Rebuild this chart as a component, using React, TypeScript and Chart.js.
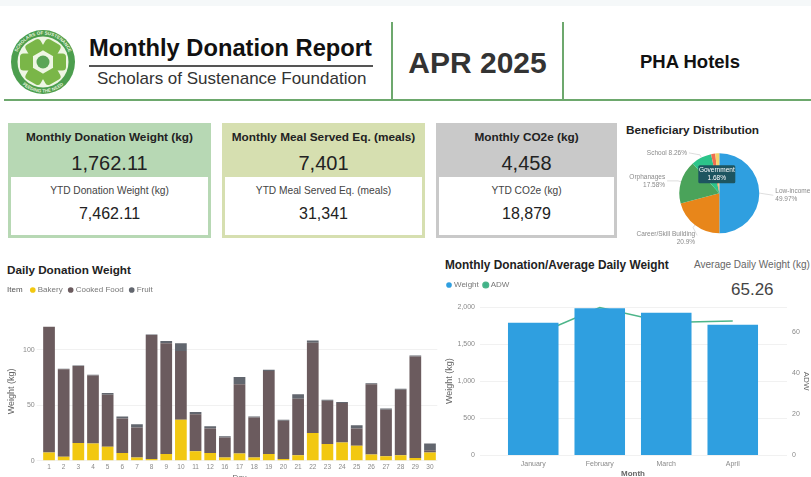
import React, { useEffect, useRef } from "react";
import { Chart, registerables } from "chart.js";

Chart.register(...registerables);
Chart.defaults.font.family = "'Liberation Sans', Arial, sans-serif";

const days = ["1","2","3","4","5","6","7","8","9","10","11","12","16","17","18","19","20","21","22","23","24","25","26","27","28","29","30"];
const bakery = [7.5,3.5,16,15.5,12.5,7,3,1.5,6,37,8.5,7,3,6.5,3,6,1.5,5,25,15,16.5,13.5,5.5,4,5,2.5,7.5];
const cookedFood = [113.5,79,69.5,61.5,47,31,27,112,100,62,33.5,22,18,62.5,36,75,34.5,51,81.5,39,35.5,15.5,63.5,42,59,91.5,2];
const fruit = [0,0.5,0.5,0.5,1.5,2,3,0.5,2,7,2,2,1,6.5,1,1,1,4,2,1,1,3,1,1,1,1,6];

const months = ["January","February","March","April"];
const monthlyWeight = [1790,1985,1925,1762.11];
const monthlyAdw = [58,71.8,64.6,65.26];

const groups = ["Low-income","Career/Skill Building","Orphanages","School","Government","Other"];
const shares = [49.97,20.9,17.58,8.26,1.68,1.61];
const shareText = ["49.97%","20.9%","17.58%","8.26%","1.68%",""];
const pieColors = ["#2f9fe0","#e8861a","#4aa35a","#2cc48a","#ef6f4f","#f5d469"];

const gridColor = "#f1f1f1";
const tickColor = "#8a8a8a";
const titleColor = "#666";

function ChartCanvas({ config, style, width, height }: any) {
  const ref = useRef<HTMLCanvasElement>(null);
  useEffect(() => {
    const chart = new Chart(ref.current as HTMLCanvasElement, config);
    return () => chart.destroy();
  }, []);
  return <canvas ref={ref} width={width} height={height} style={{ position: "absolute", ...style }} />;
}

const fixedWidth = (w: number) => (s: any) => { s.width = w; };
const fixedHeight = (h: number) => (s: any) => { s.height = h; };

const dailyConfig: any = {
  type: "bar",
  data: {
    labels: days,
    datasets: [
      { label: "Bakery", data: bakery, backgroundColor: "#f2c811" },
      { label: "Cooked Food", data: cookedFood, backgroundColor: "#6b5b5e" },
      { label: "Fruit", data: fruit, backgroundColor: "#62666e" },
    ],
  },
  options: {
    animation: false,
    responsive: false,
    layout: { padding: { right: 2.7 } },
    datasets: { bar: { barPercentage: 1, categoryPercentage: 0.8 } },
    plugins: {
      tooltip: { enabled: false },
      title: { display: true, text: " ", weight: 500, font: { size: 1 }, padding: { top: 0, bottom: 17 } },
      legend: {
        align: "start",
        labels: {
          usePointStyle: true, boxWidth: 2, boxHeight: 4, padding: 7, color: "#777",
          font: { size: 8 },
          generateLabels: (chart: any) => [
            { text: "Item ", fillStyle: "rgba(0,0,0,0)", strokeStyle: "rgba(0,0,0,0)", lineWidth: 0, pointStyle: "circle", fontColor: "#555" },
            ...Chart.defaults.plugins.legend.labels.generateLabels(chart).map((l: any) => ({ ...l, lineWidth: 0, pointStyle: "circle", fontColor: "#777" })),
          ],
        },
      },
    },
    scales: {
      x: {
        stacked: true,
        afterFit: fixedHeight(25.3),
        grid: { display: false, drawTicks: false },
        border: { display: false },
        ticks: { font: { size: 6.5 }, color: tickColor, padding: 3, maxRotation: 0, autoSkip: false },
        title: { display: true, text: "Day", font: { size: 8 }, color: titleColor, padding: { top: 0, bottom: 3 } },
      },
      y: {
        stacked: true,
        min: 0,
        max: 125,
        afterFit: fixedWidth(47.7),
        grid: { color: gridColor, tickLength: 5, tickColor: gridColor },
        border: { display: false },
        ticks: { stepSize: 50, includeBounds: false, font: { size: 7 }, color: tickColor, padding: 2 },
        title: { display: true, text: "Weight (kg)", font: { size: 9 }, color: titleColor, padding: { top: 12, bottom: 0 } },
      },
    },
  },
};

const wideGrid = {
  id: "wideGrid",
  beforeDatasetsDraw(chart: any) {
    const { ctx, chartArea, scales } = chart;
    ctx.save();
    ctx.strokeStyle = gridColor;
    ctx.lineWidth = 1;
    scales.y.ticks.forEach((t: any) => {
      const y = Math.round(scales.y.getPixelForValue(t.value)) + 0.5;
      ctx.beginPath();
      ctx.moveTo(chartArea.left - 20, y);
      ctx.lineTo(chartArea.right + 21, y);
      ctx.stroke();
    });
    ctx.restore();
  },
};

const monthlyConfig: any = {
  type: "bar",
  data: {
    labels: months,
    datasets: [
      { type: "bar", label: "Weight", data: monthlyWeight, backgroundColor: "#2f9fe0", yAxisID: "y", order: 1, barPercentage: 1, categoryPercentage: 0.76 },
      { type: "line", label: "ADW", data: monthlyAdw, borderColor: "#4db58a", backgroundColor: "#3db38a", borderWidth: 1.5, pointRadius: 0, tension: 0, yAxisID: "y1", order: 2, clip: false },
    ],
  },
  options: {
    animation: false,
    responsive: false,
    plugins: {
      tooltip: { enabled: false },
      title: { display: true, text: " ", weight: 500, font: { size: 1 }, padding: { top: 0, bottom: 7 } },
      legend: {
        align: "start",
        labels: {
          usePointStyle: true, pointStyle: "circle", boxWidth: 2, boxHeight: 4, padding: 6, color: "#777",
          font: { size: 8 },
        },
      },
    },
    scales: {
      x: {
        afterFit: fixedHeight(31),
        grid: { display: false, drawTicks: false },
        border: { display: false },
        ticks: { font: { size: 7 }, color: tickColor, padding: 5, maxRotation: 0 },
        title: { display: true, text: "Month", font: { size: 8, weight: "bold" }, color: titleColor, padding: { top: 0, bottom: 7 } },
      },
      y: {
        position: "left",
        min: 0,
        max: 2000,
        afterFit: fixedWidth(58),
        grid: { display: false },
        border: { display: false },
        ticks: { stepSize: 500, font: { size: 7 }, color: tickColor, padding: 17, callback: (v: number) => v.toLocaleString("en-US") },
        title: { display: true, text: "Weight (kg)", font: { size: 9 }, color: titleColor, padding: { top: 2, bottom: 0 } },
      },
      y1: {
        position: "right",
        min: 0,
        max: 72,
        afterFit: fixedWidth(45),
        grid: { display: false },
        border: { display: false },
        ticks: { stepSize: 20, includeBounds: false, font: { size: 7 }, color: tickColor, padding: 18 },
        title: { display: true, text: "ADW", font: { size: 8 }, color: titleColor, padding: { top: 0, bottom: 0 } },
      },
    },
  },
  plugins: [wideGrid],
};

const labelPlacement = [
  { align: "left", dx: 15, dy: 2, elbow: 1 },
  { align: "right", dx: -6, dy: 11, elbow: 3 },
  { align: "right", dx: 9, dy: 0, elbow: 3 },
  { align: "right", dx: 9, dy: -2, elbow: 3 },
];

const pieLabels = {
  id: "pieLabels",
  afterDatasetsDraw(chart: any) {
    const { ctx } = chart;
    const arcs = chart.getDatasetMeta(0).data;
    ctx.save();
    ctx.font = "6.5px 'Liberation Sans', Arial, sans-serif";
    labelPlacement.forEach((p, i) => {
      const arc = arcs[i];
      const { x, y, outerRadius, startAngle, endAngle } = arc.getProps(["x", "y", "outerRadius", "startAngle", "endAngle"], true);
      const mid = (startAngle + endAngle) / 2;
      const px = x + Math.cos(mid) * outerRadius;
      const py = y + Math.sin(mid) * outerRadius;
      const ex = x + Math.cos(mid) * (outerRadius + p.elbow);
      const ey = y + Math.sin(mid) * (outerRadius + p.elbow);
      const tx = ex + (p.align === "left" ? p.dx : -p.dx - 4);
      const ty = ey + p.dy;
      ctx.strokeStyle = "#cfcfcf";
      ctx.lineWidth = 0.7;
      ctx.beginPath();
      ctx.moveTo(px, py);
      ctx.lineTo(ex, ey);
      ctx.lineTo(p.align === "left" ? tx - 2 : tx + 2, i === 1 ? ty - 3 : ty);
      ctx.stroke();
      ctx.fillStyle = "#8a8a8a";
      ctx.textAlign = p.align;
      ctx.textBaseline = "middle";
      if (i === 3) {
        ctx.fillText(`${groups[i]} ${shareText[i]}`, tx, ty);
      } else {
        ctx.fillText(groups[i], tx, ty - 4);
        ctx.fillText(shareText[i], tx, ty + 4);
      }
    });
    const bx = arcs[0].x - 21;
    const by = arcs[0].y - 28;
    ctx.fillStyle = "#1d5560";
    ctx.beginPath();
    ctx.roundRect(bx, by, 37, 18, 1.5);
    ctx.fill();
    ctx.fillStyle = "#ffffff";
    ctx.textAlign = "center";
    ctx.fillText(groups[4], bx + 18.5, by + 5);
    ctx.fillText(shareText[4], bx + 18.5, by + 13);
    ctx.restore();
  },
};

const pieConfig: any = {
  type: "pie",
  data: {
    labels: groups,
    datasets: [{ data: shares, backgroundColor: pieColors, borderWidth: 0 }],
  },
  options: {
    animation: false,
    responsive: false,
    layout: { padding: { left: 54.3, right: 51.7, top: 8.3, bottom: 11.7 } },
    plugins: { legend: { display: false }, tooltip: { enabled: false } },
  },
  plugins: [pieLabels],
};

const cards = [
  { left: 8, width: 203, color: "#b7d8b4", title: "Monthly Donation Weight (kg)", value: "1,762.11", ytdTitle: "YTD Donation Weight (kg)", ytd: "7,462.11" },
  { left: 222, width: 203, color: "#d6dfb0", title: "Monthly Meal Served Eq. (meals)", value: "7,401", ytdTitle: "YTD Meal Served Eq. (meals)", ytd: "31,341" },
  { left: 436, width: 181, color: "#c9c9c9", title: "Monthly CO2e (kg)", value: "4,458", ytdTitle: "YTD CO2e (kg)", ytd: "18,879" },
];

const font = "'Liberation Sans', Arial, sans-serif";

function Text({ x, y, w, size, bold, color, align, children }: any) {
  return (
    <div style={{ position: "absolute", left: x, top: y - 15, width: w, height: 30, lineHeight: "30px", fontSize: size, fontWeight: bold ? 700 : 400, color: color ?? "#222", textAlign: align ?? "left", whiteSpace: "nowrap", fontFamily: font }}>
      {children}
    </div>
  );
}

function Logo() {
  const blobs = [0, 60, 120, 180, 240, 300];
  return (
    <svg width="72" height="72" viewBox="0 0 72 72" style={{ position: "absolute", left: 7, top: 26 }}>
      <defs>
        <path id="logoTop" d="M 8.5 36 A 27.5 27.5 0 0 1 63.5 36" />
        <path id="logoBot" d="M 5.5 36 A 30.5 30.5 0 0 0 66.5 36" />
      </defs>
      <circle cx="36" cy="36" r="32" fill="#4c9e4e" />
      <circle cx="36" cy="36" r="25.5" fill="#eef6e4" />
      {blobs.map((a) => (
        <rect key={a} x="27.5" y="13" width="17" height="13" rx="3.5" fill="#7ab648" transform={`rotate(${a + 30} 36 36)`} />
      ))}
      <circle cx="36" cy="36" r="6.5" fill="#5aa557" />
      <text fontSize="4.6" fontWeight="700" fill="#e8f3dc" fontFamily={font} textAnchor="middle">
        <textPath href="#logoTop" startOffset="50%">SCHOLARS OF SUSTENANCE</textPath>
      </text>
      <text fontSize="4.6" fontWeight="700" fill="#e8f3dc" fontFamily={font} textAnchor="middle">
        <textPath href="#logoBot" startOffset="50%">FEEDING THE NEED</textPath>
      </text>
    </svg>
  );
}

export default function App() {
  return (
    <div style={{ position: "fixed", left: 0, top: 0, width: 811, height: 477, overflow: "hidden", background: "#fff", filter: "blur(0.4px)" }}>
      <div style={{ position: "absolute", left: 0, top: 0, width: 811, height: 6, background: "#f5f8f9" }} />
      <Logo />
      <Text x={89} y={48} w={290} size={23.7} bold color="#111">Monthly Donation Report</Text>
      <div style={{ position: "absolute", left: 89, top: 65, width: 284, height: 2, background: "#555" }} />
      <Text x={97} y={79} w={280} size={17} color="#333">Scholars of Sustenance Foundation</Text>
      <div style={{ position: "absolute", left: 4, top: 99, width: 807, height: 2, background: "#6da86d" }} />
      <div style={{ position: "absolute", left: 391, top: 22, width: 2, height: 78, background: "#6da86d" }} />
      <div style={{ position: "absolute", left: 562, top: 22, width: 2, height: 78, background: "#6da86d" }} />
      <Text x={393} y={63} w={169} size={30} bold align="center" color="#333">APR 2025</Text>
      <Text x={564} y={61.5} w={252} size={18.5} bold align="center" color="#111">PHA Hotels</Text>

      {cards.map((c) => (
        <div key={c.title} style={{ position: "absolute", left: c.left, top: 123, width: c.width, height: 115 }}>
          <div style={{ position: "absolute", inset: 0, background: c.color }} />
          <div style={{ position: "absolute", left: 3, right: 3, top: 54, bottom: 3, background: "#fff" }} />
          <Text x={0} y={14} w={c.width} size={11.8} bold align="center" color="#222">{c.title}</Text>
          <Text x={0} y={40} w={c.width} size={20} align="center" color="#222">{c.value}</Text>
          <Text x={0} y={67.5} w={c.width} size={10.2} align="center" color="#444">{c.ytdTitle}</Text>
          <Text x={0} y={91} w={c.width} size={16} align="center" color="#222">{c.ytd}</Text>
        </div>
      ))}

      <Text x={626} y={130} w={160} size={11.8} bold color="#222">Beneficiary Distribution</Text>
      <ChartCanvas config={pieConfig} width={186} height={100} style={{ left: 625, top: 145 }} />

      <Text x={7} y={270} w={160} size={11.7} bold color="#222">Daily Donation Weight</Text>
      <ChartCanvas config={dailyConfig} width={446} height={207} style={{ left: -6, top: 279 }} />

      <Text x={445} y={265} w={240} size={11.85} bold color="#222">Monthly Donation/Average Daily Weight</Text>
      <Text x={694} y={265} w={120} size={10} color="#666">Average Daily Weight (kg)</Text>
      <Text x={731} y={290} w={60} size={17} color="#444">65.26</Text>
      <ChartCanvas config={monthlyConfig} width={369} height={211} style={{ left: 442, top: 275 }} />
    </div>
  );
}
